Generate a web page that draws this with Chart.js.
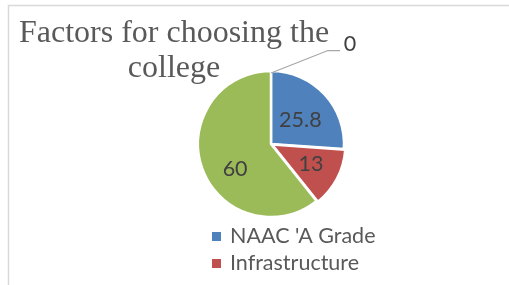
<!DOCTYPE html>
<html>
<head>
<meta charset="utf-8">
<script src="https://cdn.jsdelivr.net/npm/chart.js@4/dist/chart.umd.min.js"></script>
<style>
  html, body { margin: 0; padding: 0; background: #ffffff; }
  canvas { display: block; }
</style>
</head>
<body>
<canvas id="c" width="509" height="285"></canvas>
<script>
const titleLines = ["Factors for choosing the", "college"];
const categories = ["NAAC 'A Grade", "Infrastructure", "Placements", "Others"];
const values = [25.8, 13, 60, 0];
const colors = ["#4f81bd", "#c0504d", "#9bbb59", "#8064a2"];
const offsets = [0, 5, 0, 0];

const labelFont = "21.5px Lato, 'Open Sans', sans-serif";
// small placement nudges for the value labels (px)
const labelNudge = [[0, 1], [0, -3], [2, 10], [0, 0]];

const decor = {
  id: 'decor',
  beforeDraw(chart) {
    const ctx = chart.ctx;
    ctx.save();
    ctx.strokeStyle = '#d9d9d9';
    ctx.lineWidth = 1.5;
    ctx.beginPath();
    ctx.moveTo(8.5, 290);
    ctx.lineTo(8.5, 5.5);
    ctx.lineTo(520, 5.5);
    ctx.stroke();
    ctx.restore();
  },
  afterDraw(chart) {
    const ctx = chart.ctx;
    const meta = chart.getDatasetMeta(0);
    ctx.save();
    // title
    ctx.fillStyle = '#595959';
    ctx.font = "32px 'Liberation Serif', 'Times New Roman', serif";
    ctx.textAlign = 'center';
    ctx.textBaseline = 'alphabetic';
    ctx.fillText(titleLines[0], 174, 42);
    ctx.fillText(titleLines[1], 174, 77);

    // data labels
    ctx.font = labelFont;
    ctx.fillStyle = '#404040';
    ctx.textBaseline = 'middle';
    meta.data.forEach((arc, i) => {
      const p = arc.getProps(['x', 'y', 'startAngle', 'endAngle', 'outerRadius'], true);
      const txt = String(values[i]);
      if (values[i] === 0) {
        const ax = p.x + Math.cos(p.startAngle) * p.outerRadius;
        const ay = p.y + Math.sin(p.startAngle) * p.outerRadius;
        const ex = p.x + 0.78 * p.outerRadius;
        const ey = p.y - 1.28 * p.outerRadius;
        ctx.strokeStyle = '#a6a6a6';
        ctx.lineWidth = 1.2;
        ctx.beginPath();
        ctx.moveTo(ax, ay + 2);
        ctx.lineTo(ex, ey);
        ctx.lineTo(ex + 12, ey);
        ctx.stroke();
        ctx.textAlign = 'center';
        ctx.fillText(txt, ex + 22, ey - 6);
        return;
      }
      const mid = (p.startAngle + p.endAngle) / 2;
      const d = 0.55 * p.outerRadius + offsets[i];
      ctx.textAlign = 'center';
      ctx.fillText(txt, p.x + Math.cos(mid) * d + labelNudge[i][0],
                        p.y + Math.sin(mid) * d + 2 + labelNudge[i][1]);
    });

    // legend (only rows that fit inside the chart are shown)
    ctx.textAlign = 'left';
    ctx.textBaseline = 'alphabetic';
    categories.forEach((name, i) => {
      const y = 243 + i * 27;
      if (y + 6 > chart.height) return;
      ctx.fillStyle = colors[i];
      ctx.fillRect(212, y - 11, 9, 9);
      ctx.fillStyle = '#595959';
      ctx.fillText(name, 230, y);
    });
    ctx.restore();
  }
};

new Chart(document.getElementById('c'), {
  type: 'pie',
  data: {
    labels: categories,
    datasets: [{
      data: values,
      backgroundColor: colors,
      borderColor: '#ffffff',
      borderWidth: 2.5,
      offset: offsets,
      radius: 73
    }]
  },
  options: {
    responsive: false,
    animation: false,
    events: [],
    layout: { padding: { left: 171, right: 138, top: 44, bottom: 41 } },
    plugins: {
      legend: { display: false },
      title: { display: false },
      tooltip: { enabled: false }
    }
  },
  plugins: [decor]
});
</script>
</body>
</html>
